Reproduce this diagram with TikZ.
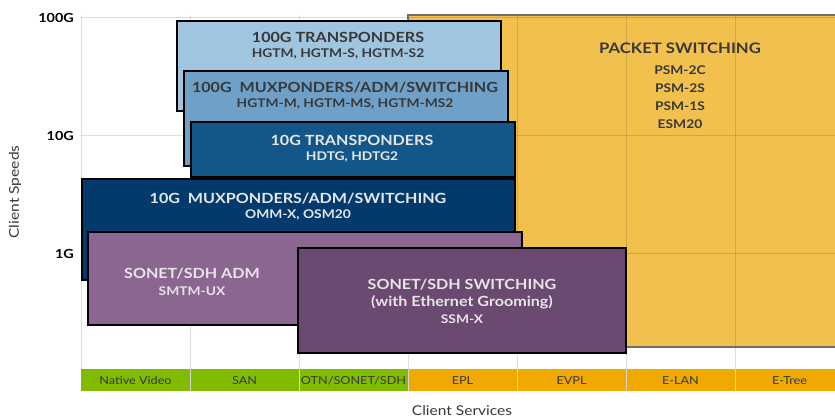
\documentclass[tikz,border=0pt]{standalone}
\usepackage{fontspec}
\setmainfont{Lato}[FakeStretch=1.15]
\definecolor{yel}{HTML}{F2C04C}
\definecolor{yelb}{HTML}{6E6E6E}
\definecolor{bA}{HTML}{A0C5DF}
\definecolor{bB}{HTML}{6FA1C8}
\definecolor{bC}{HTML}{13568A}
\definecolor{bD}{HTML}{023A6E}
\definecolor{pA}{HTML}{8A6690}
\definecolor{pB}{HTML}{6B4A72}
\definecolor{grn}{HTML}{80BB00}
\definecolor{org}{HTML}{F0A900}
\definecolor{dtxt}{HTML}{383838}
\definecolor{ltxt}{HTML}{E6E6E6}
\definecolor{sep}{HTML}{D6D6D6}
\tikzset{
  gridline/.style={draw=black,draw opacity=0.13,line width=0.9pt},
  blk/.style={draw=black,line width=2pt},
  ttl/.style={font=\bfseries\fontsize{14}{16}\selectfont,inner sep=0pt},
  sub/.style={font=\bfseries\fontsize{12}{14}\selectfont,inner sep=0pt},
  cat/.style={font=\fontsize{11}{13}\selectfont,text=dtxt,inner sep=0pt},
  axl/.style={font=\bfseries\fontsize{12.5}{15}\selectfont,anchor=east,inner sep=0pt},
  axt/.style={font=\fontsize{13.5}{15}\selectfont,text=dtxt,inner sep=0pt},
}
\begin{document}
\begin{tikzpicture}[x=1pt,y=-1pt]
\useasboundingbox (0,0) rectangle (835,419);
% yellow packet area
\fill[yel] (408,15) rectangle (845,347);
% grid
\foreach \x in {81,190,299,408,517,626,735}{
  \draw[gridline] (\x,16) -- (\x,369);
}
\foreach \y in {17,135,253}{
  \draw[gridline] (81,\y) -- (845,\y);
}
\draw[yelb,line width=1.5pt] (408,347) -- (408,15) -- (845,15);
\draw[yelb,line width=1.5pt] (408,347) -- (845,347);
% axis labels
\node[axl] (l100) at (74,18) {100G};
\node[axl] (l10) at (74,136) {10G};
\node[axl] (l1) at (74,254) {1G};
\node[axt,rotate=90] (ylab) at (15,192) {Client Speeds};
\node[axt] (xlab) at (462,411) {Client Services};
% category bar
\foreach \x/\c/\t [count=\i] in {81/grn/Native Video,190/grn/SAN,299/grn/{OTN/SONET/SDH},408/org/EPL,517/org/EVPL,626/org/E-LAN,735/org/E-Tree}{
  \fill[\c] (\x,369) rectangle ++(109,22);
  \node[cat] (c\i) at (\x+54.5,380.5) {\t};
}
\foreach \x in {190,299,408,517,626,735}{
  \draw[sep,line width=0.9pt] (\x,369) -- (\x,391);
}
% packet text
\node[font=\bfseries\fontsize{14.5}{17}\selectfont,text=dtxt,inner sep=0pt] (pk) at (680,48) {PACKET SWITCHING};
\node[sub,text=dtxt] (pk1) at (680,70) {PSM-2C};
\node[sub,text=dtxt] (pk2) at (680,88) {PSM-2S};
\node[sub,text=dtxt] (pk3) at (680,106) {PSM-1S};
\node[sub,text=dtxt] (pk4) at (680,124) {ESM20};
% boxes
\draw[blk,fill=bA] (177,21) rectangle (501,111);
\node[ttl,text=dtxt] (t1) at (338,37) {100G TRANSPONDERS};
\node[sub,text=dtxt] (s1) at (338,54) {HGTM, HGTM-S, HGTM-S2};
\draw[blk,fill=bB] (184,71) rectangle (508,166);
\node[ttl,text=dtxt] (t2) at (345,88) {100G\ \ MUXPONDERS/ADM/SWITCHING};
\node[sub,text=dtxt] (s2) at (345,104) {HGTM-M, HGTM-MS, HGTM-MS2};
\draw[blk,fill=bC] (191,122) rectangle (515,177);
\node[ttl,text=ltxt] (t3) at (352,140) {10G TRANSPONDERS};
\node[sub,text=ltxt] (s3) at (352,157) {HDTG, HDTG2};
\draw[blk,fill=bD] (82,179) rectangle (515,280);
\node[ttl,text=ltxt] (t4) at (298,199) {10G\ \ MUXPONDERS/ADM/SWITCHING};
\node[sub,text=ltxt] (s4) at (298,215) {OMM-X, OSM20};
\draw[blk,fill=pA] (88,232) rectangle (522,325);
\node[ttl,text=ltxt] (t5) at (192,274) {SONET/SDH ADM};
\node[sub,text=ltxt] (s5) at (192,291) {SMTM-UX};
\draw[blk,fill=pB] (298,248) rectangle (626,353);
\node[ttl,text=ltxt] (t6) at (462,285) {SONET/SDH SWITCHING};
\node[ttl,text=ltxt] (t6b) at (462,302) {(with Ethernet Grooming)};
\node[sub,text=ltxt] (s6) at (462,319) {SSM-X};
\end{tikzpicture}
\end{document}
